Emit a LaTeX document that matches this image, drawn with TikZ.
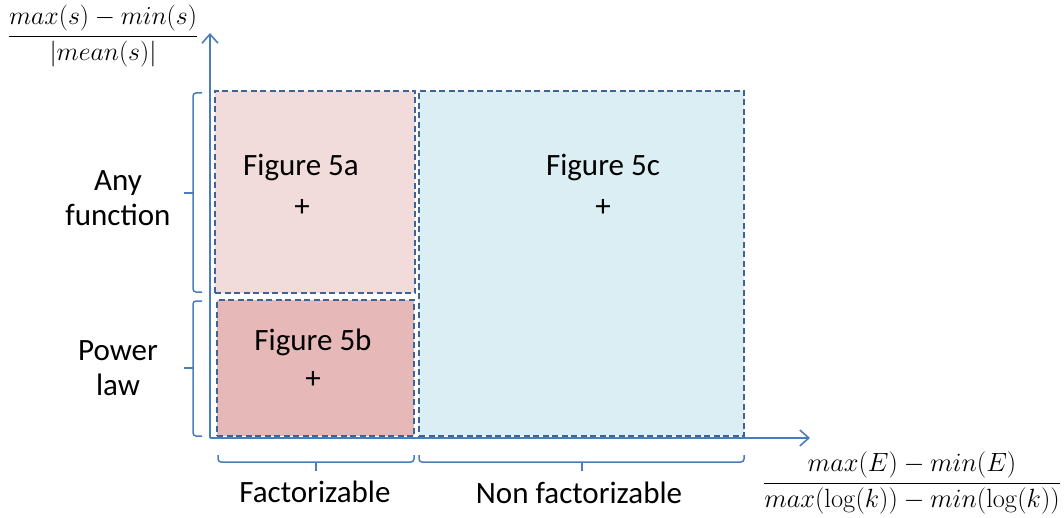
\documentclass[tikz,border=0pt]{standalone}
\usepackage[no-math]{fontspec}
\setmainfont{Carlito}
\usetikzlibrary{arrows.meta}
\definecolor{axisblue}{HTML}{4A7EBB}
\definecolor{dashblue}{HTML}{3E6496}
\definecolor{pinkA}{HTML}{F2DCDB}
\definecolor{pinkB}{HTML}{E6B9B8}
\definecolor{lblue}{HTML}{DBEEF4}
\tikzset{
  axisline/.style={draw=axisblue, line width=1.6pt, -{Straight Barb[length=9pt,width=16pt,line width=1.6pt]}},
  region/.style={draw=dashblue, line width=1.5pt, dash pattern=on 6pt off 3.5pt, inner sep=0pt, outer sep=0pt},
  bracel/.style={draw=axisblue, line width=1.5pt, rounded corners=3pt},
  lbl/.style={font=\fontsize{31}{36}\selectfont, text=black, inner sep=0pt, align=center},
  frac/.style={font=\fontsize{24.88}{30}\selectfont, text=black, inner sep=0pt},
}
\begin{document}
\begin{tikzpicture}[x=1pt,y=-1pt]
\path[use as bounding box] (0,0) rectangle (1064,518);
% regions
\node[region, fill=pinkA, minimum width=200pt, minimum height=202pt] (b5a) at (315,192) {};
\node[region, fill=pinkB, minimum width=197pt, minimum height=136pt] (b5b) at (315.5,368) {};
\node[region, fill=lblue, minimum width=325pt, minimum height=345pt] (b5c) at (581.5,263.5) {};
% axes
\coordinate (o) at (210,438);
\coordinate (ytop) at (210,33);
\coordinate (xend) at (810,438);
\draw[axisline] (o) -- (ytop);
\draw[axisline] (o) -- (xend);
% labels in regions
\node[lbl] (t5a) at (301,168) {Figure 5a};
\node[lbl] (p5a) at (302,208) {+};
\node[lbl] (t5b) at (313,342) {Figure 5b};
\node[lbl] (p5b) at (313,380) {+};
\node[lbl] (t5c) at (603,168) {Figure 5c};
\node[lbl] (p5c) at (603,208) {+};
% left braces
\coordinate (ba1) at (202,93);
\coordinate (ba2) at (202,292);
\coordinate (bat) at (184,193);
\draw[bracel] (ba1) -- (193,93) -- (193,292) -- (ba2);
\draw[bracel] (193,193) -- (bat);
\coordinate (bb1) at (202,301);
\coordinate (bb2) at (202,436);
\coordinate (bbt) at (184,368);
\draw[bracel] (bb1) -- (193,301) -- (193,436) -- (bb2);
\draw[bracel] (193,368) -- (bbt);
% bottom braces
\coordinate (bf1) at (218,455);
\coordinate (bf2) at (414,455);
\coordinate (bft) at (316,471);
\draw[bracel] (bf1) -- (218,462) -- (414,462) -- (bf2);
\draw[bracel] (316,462) -- (bft);
\coordinate (bn1) at (419,455);
\coordinate (bn2) at (744,455);
\coordinate (bnt) at (582,471);
\draw[bracel] (bn1) -- (419,462) -- (744,462) -- (bn2);
\draw[bracel] (582,462) -- (bnt);
% side labels
\node[lbl] (any) at (118,198) {Any\\[-1pt]function};
\node[lbl] (pow) at (118,368) {Power\\[-1pt]law};
\node[lbl] (fac) at (315,492) {Factorizable};
\node[lbl] (nfac) at (579,493) {Non factorizable};
% axis titles
\node[frac] (ylab) at (103,36) {\scalebox{1.04}{$\displaystyle\frac{max(s)-min(s)}{|mean(s)|}$}};
\node[frac] (xlab) at (912,483) {\scalebox{1.06}{$\displaystyle\frac{max(E)-min(E)}{max(\log(k))-min(\log(k))}$}};
\end{tikzpicture}
\end{document}
